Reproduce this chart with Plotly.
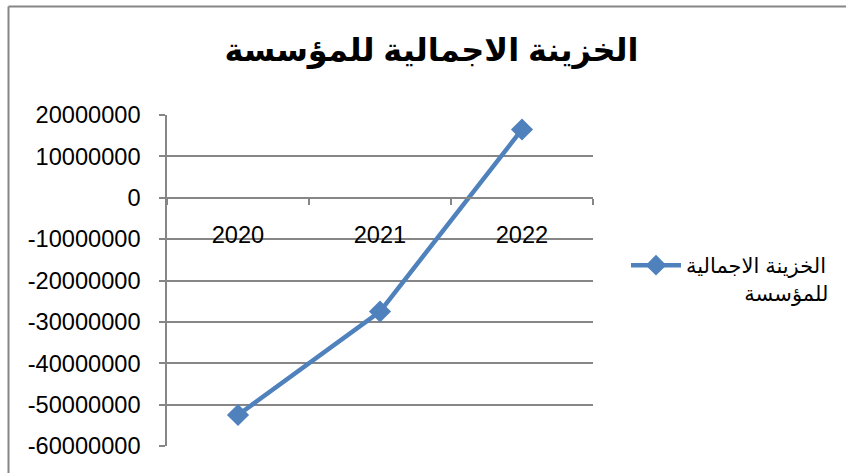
import plotly.graph_objects as go

# ---- data ----
categories = ["2020", "2021", "2022"]
values = [-52500000, -27500000, 16500000]
title_text = "الخزينة الاجمالية للمؤسسة"
legend_line1 = "الخزينة الاجمالية"
legend_line2 = "للمؤسسة"
y_min, y_max, y_step = -60000000, 20000000, 10000000
y_tickvals = list(range(y_min, y_max + 1, y_step))
y_ticktext = [str(v) for v in y_tickvals]

# ---- layout constants ----
W, H = 846, 473
ML, MR, MT, MB = 167, 253, 115, 27
pw, ph = W - ML - MR, H - MT - MB

def px_to_paper_x(px):
    return (px - ML) / pw

def px_to_paper_y(py):
    return (H - MB - py) / ph

GRID = "#868686"
BLUE = "#4F81BD"
FONT = "Liberation Sans, Arial, DejaVu Sans, sans-serif"

fig = go.Figure()
fig.add_trace(go.Scatter(
    x=categories, y=values, mode="lines+markers",
    name=legend_line1 + "<br>" + "\u00a0" * 10 + legend_line2,
    line=dict(color=BLUE, width=4.5),
    marker=dict(symbol="diamond", size=17, color=BLUE),
))

zero_pos = (0 - y_min) / (y_max - y_min)

fig.update_layout(
    width=W, height=H,
    margin=dict(l=ML, r=MR, t=MT, b=MB),
    paper_bgcolor="white", plot_bgcolor="white",
    font=dict(family=FONT, size=23.6, color="black"),
    title=dict(text="<b>" + title_text + "</b>", x=0.51, xanchor="center",
               y=1 - 50 / H, yanchor="middle",
               font=dict(family=FONT, size=32, color="black")),
    showlegend=True,
    legend=dict(x=px_to_paper_x(626), xanchor="left",
                y=px_to_paper_y(279), yanchor="middle", valign="top",
                font=dict(family=FONT, size=21, color="black"),
                bgcolor="rgba(0,0,0,0)", itemwidth=50, borderwidth=0),
    xaxis=dict(type="category", range=[-0.5, 2.5],
               anchor="free", position=zero_pos,
               showline=True, linecolor=GRID, linewidth=1.5,
               ticks="outside", tickson="boundaries", ticklen=6,
               tickcolor=GRID, tickwidth=1.5,
               showgrid=False, zeroline=False,
               ticklabelstandoff=16,
               tickfont=dict(family=FONT, size=23.6, color="black")),
    yaxis=dict(range=[y_min, y_max], tickvals=y_tickvals, ticktext=y_ticktext,
               showline=True, linecolor=GRID, linewidth=1.5,
               ticks="outside", ticklen=6, tickcolor=GRID, tickwidth=1.5,
               showgrid=True, gridcolor=GRID, gridwidth=1.5,
               zeroline=True, zerolinecolor=GRID, zerolinewidth=1.5,
               ticklabelstandoff=14,
               tickfont=dict(family=FONT, size=23.6, color="black")),
    shapes=[
        dict(type="line", xref="paper", yref="paper",
             x0=px_to_paper_x(8.5), x1=px_to_paper_x(8.5),
             y0=px_to_paper_y(6.5), y1=px_to_paper_y(H + 5),
             line=dict(color=GRID, width=2)),
        dict(type="line", xref="paper", yref="paper",
             x0=px_to_paper_x(8.5), x1=px_to_paper_x(W + 5),
             y0=px_to_paper_y(6.5), y1=px_to_paper_y(6.5),
             line=dict(color=GRID, width=2)),
    ],
)

fig.write_html("out.html", config={"displayModeBar": False},
               post_script="document.body.style.margin='0';")
